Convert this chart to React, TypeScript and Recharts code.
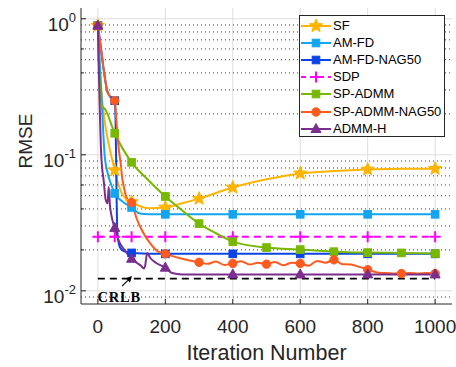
import React from 'react'
import { LineChart, Line, XAxis, YAxis, CartesianGrid, Legend, ReferenceDot, ReferenceLine } from 'recharts'

// axis ticks
const xTicks = [0, 200, 400, 600, 800, 1000]
const yDecades = [0.01, 0.1, 1]
const yExponents = ['-2', '-1', '0']
const yMinors = [0.009, 0.02, 0.03, 0.04, 0.05, 0.06, 0.07, 0.08, 0.09, 0.2, 0.3, 0.4, 0.5, 0.6, 0.7, 0.8, 0.9]
const yAll = [...yDecades, ...yMinors].sort((a, b) => a - b)

// SF
const sfIter = [0, 3, 50, 75, 100, 150, 200, 250, 300, 400, 500, 600, 700, 800, 900, 1000]
const sfRmse = [0.89, 0.48, 0.077, 0.05, 0.045, 0.0405, 0.041, 0.044, 0.0476, 0.0575, 0.066, 0.073, 0.076, 0.078, 0.079, 0.079]
const sfMarks = [0, 50, 100, 200, 300, 400, 600, 800, 1000]

// AM-FD
const amIter = [0, 10, 20, 30, 40, 50, 75, 100, 125, 150, 200, 400, 600, 800, 1000]
const amRmse = [0.89, 0.3, 0.1, 0.072, 0.06, 0.052, 0.045, 0.041, 0.037, 0.0366, 0.0365, 0.0365, 0.0365, 0.0365, 0.0365]
const amMarks = [0, 50, 100, 200, 400, 600, 800, 1000]

// AM-FD-NAG50
const amNagIter = [0, 9, 18, 27, 33, 50, 53, 55, 57, 60, 65, 75, 100, 200, 400, 600, 800, 1000]
const amNagRmse = [0.89, 0.61, 0.41, 0.3, 0.275, 0.25, 0.15, 0.06, 0.03, 0.024, 0.021, 0.0197, 0.019, 0.0187, 0.0187, 0.0187, 0.0187, 0.0187]
const amNagMarks = [0, 50, 100, 200, 400, 600, 800, 1000]

// SDP
const sdpIter = [0, 50, 100, 200, 400, 600, 800, 1000]
const sdpRmse = [0.025, 0.025, 0.025, 0.025, 0.025, 0.025, 0.025, 0.025]
const sdpMarks = [0, 50, 100, 200, 400, 600, 800, 1000]

// SP-ADMM
const spIter = [0, 3, 12, 22, 50, 100, 150, 200, 250, 300, 350, 400, 500, 600, 700, 800, 900, 1000]
const spRmse = [0.89, 0.48, 0.23, 0.215, 0.144, 0.088, 0.065, 0.0494, 0.039, 0.0312, 0.0265, 0.023, 0.0208, 0.0201, 0.0194, 0.0191, 0.019, 0.0188]
const spMarks = [0, 50, 100, 200, 300, 400, 500, 600, 700, 800, 900, 1000]

// SP-ADMM-NAG50
const spNagIter = [0, 9, 18, 27, 33, 50, 56, 62, 68, 72, 77, 86, 100, 115, 130, 157, 175, 200, 250, 300, 325, 350, 375, 400, 425, 450, 475, 500, 525, 550, 575, 600, 625, 650, 675, 700, 725, 750, 775, 800, 825, 850, 875, 900, 925, 950, 975, 1000]
const spNagRmse = [0.89, 0.61, 0.41, 0.3, 0.275, 0.25, 0.165, 0.11, 0.085, 0.068, 0.058, 0.048, 0.0445, 0.034, 0.028, 0.022, 0.0197, 0.0187, 0.0172, 0.0162, 0.0158, 0.0164, 0.0155, 0.0159, 0.0165, 0.0156, 0.0161, 0.0157, 0.0163, 0.0154, 0.0161, 0.0159, 0.0153, 0.0166, 0.0161, 0.0169, 0.0157, 0.0156, 0.015, 0.0143, 0.0137, 0.0135, 0.0134, 0.0134, 0.0135, 0.0134, 0.0135, 0.0134]
const spNagMarks = [0, 50, 100, 200, 300, 400, 500, 600, 700, 800, 900, 1000]

// ADMM-H
const hIter = [0, 10, 18, 23, 29, 32, 36, 40, 50, 62, 80, 100, 115, 128, 136, 140, 146, 155, 172, 200, 220, 250, 400, 600, 800, 1000]
const hRmse = [0.89, 0.1, 0.062, 0.047, 0.044, 0.058, 0.042, 0.036, 0.029, 0.0233, 0.0198, 0.0172, 0.0161, 0.0153, 0.0146, 0.0152, 0.019, 0.0175, 0.0161, 0.0148, 0.0135, 0.0132, 0.0132, 0.0132, 0.0132, 0.0132]
const hMarks = [0, 50, 100, 200, 400, 600, 800, 1000]

// CRLB
const crlbIter = [0, 1000]
const crlbRmse = [0.0123, 0.0123]

const AXIS = '#262626'
const FONT = '"Liberation Sans", Arial, Helvetica, sans-serif'

const toPoints = (iters: number[], vals: number[]) => iters.map((iter, i) => ({ iter, rmse: vals[i] }))

type Kind = 'star' | 'square' | 'plus' | 'circle' | 'triangle'

const series = [
  { name: 'SF', color: '#FFB400', marker: 'star' as Kind, data: toPoints(sfIter, sfRmse), marks: sfMarks, dash: undefined },
  { name: 'AM-FD', color: '#13A6EF', marker: 'square' as Kind, data: toPoints(amIter, amRmse), marks: amMarks, dash: undefined },
  { name: 'AM-FD-NAG50', color: '#0B44E6', marker: 'square' as Kind, data: toPoints(amNagIter, amNagRmse), marks: amNagMarks, dash: undefined },
  { name: 'SDP', color: '#FF00FF', marker: 'plus' as Kind, data: toPoints(sdpIter, sdpRmse), marks: sdpMarks, dash: '7 5' },
  { name: 'SP-ADMM', color: '#78B800', marker: 'square' as Kind, data: toPoints(spIter, spRmse), marks: spMarks, dash: undefined },
  { name: 'SP-ADMM-NAG50', color: '#FF5A1E', marker: 'circle' as Kind, data: toPoints(spNagIter, spNagRmse), marks: spNagMarks, dash: undefined },
  { name: 'ADMM-H', color: '#7A2E8E', marker: 'triangle' as Kind, data: toPoints(hIter, hRmse), marks: hMarks, dash: undefined },
]

function starPoints(cx: number, cy: number, R: number, r: number) {
  const pts: string[] = []
  for (let i = 0; i < 10; i++) {
    const a = ((-90 + i * 36) * Math.PI) / 180
    const rad = i % 2 === 0 ? R : r
    pts.push(`${cx + rad * Math.cos(a)},${cy + rad * Math.sin(a)}`)
  }
  return pts.join(' ')
}

function Marker({ kind, cx, cy, color }: { kind: Kind; cx: number; cy: number; color: string }) {
  switch (kind) {
    case 'star':
      return <polygon points={starPoints(cx, cy, 7, 3)} fill={color} stroke={color} strokeWidth={1} />
    case 'square':
      return <rect x={cx - 3.8} y={cy - 3.8} width={7.6} height={7.6} fill={color} stroke={color} />
    case 'circle':
      return <circle cx={cx} cy={cy} r={4.2} fill={color} stroke={color} />
    case 'triangle':
      return <polygon points={`${cx},${cy - 5.5} ${cx - 5},${cy + 3.5} ${cx + 5},${cy + 3.5}`} fill={color} stroke={color} />
    case 'plus':
      return <path d={`M${cx - 5.5},${cy}h11M${cx},${cy - 5.5}v11`} stroke={color} strokeWidth={2} fill="none" />
  }
}

const makeDot = (s: (typeof series)[number]) => (props: any) => {
  const { cx, cy, payload, index } = props
  const key = `${s.name}-${index}`
  if (cx == null || cy == null || !s.marks.includes(payload.iter)) return <g key={key} />
  return (
    <g key={key}>
      <Marker kind={s.marker} cx={cx} cy={cy} color={s.color} />
    </g>
  )
}

function BottomTick({ x, y, payload }: any) {
  return (
    <g>
      <line x1={x} x2={x} y1={y} y2={y - 5} stroke={AXIS} />
      <text x={x} y={y + 29} textAnchor="middle" fontSize={19} fill={AXIS} fontFamily={FONT}>
        {payload.value}
      </text>
    </g>
  )
}

function TopTick({ x, y }: any) {
  return <line x1={x} x2={x} y1={y} y2={y + 5} stroke={AXIS} />
}

function LeftTick({ x, y, payload }: any) {
  const i = yDecades.indexOf(payload.value)
  const major = i >= 0
  return (
    <g>
      <line x1={x} x2={x + (major ? 5 : 3)} y1={y} y2={y} stroke={AXIS} />
      {major && (
        <text x={x - 5} y={y + 12} textAnchor="end" fontSize={19} fill={AXIS} fontFamily={FONT}>
          10
          <tspan dy={-9} fontSize={13}>
            {yExponents[i]}
          </tspan>
        </text>
      )}
    </g>
  )
}

function RightTick({ x, y, payload }: any) {
  const major = yDecades.includes(payload.value)
  return <line x1={x} x2={x - (major ? 5 : 3)} y1={y} y2={y} stroke={AXIS} />
}

function CrlbNote({ cx, cy }: any) {
  if (cx == null || cy == null) return <g />
  const tx = cx + 0.5
  const ty = cy - 2.5
  const fx = cx - 9.5
  const fy = cy + 7.5
  const dx = tx - fx
  const dy = ty - fy
  const len = Math.hypot(dx, dy)
  const ux = dx / len
  const uy = dy / len
  const bx = tx - ux * 6
  const by = ty - uy * 6
  return (
    <g>
      <line x1={fx} y1={fy} x2={bx} y2={by} stroke="#000" strokeWidth={1.2} />
      <polygon points={`${tx},${ty} ${bx - uy * 3},${by + ux * 3} ${bx + uy * 3},${by - ux * 3}`} fill="#000" />
      <text x={cx - 34} y={cy + 23} fontSize={14.5} fontWeight="bold" letterSpacing={0.8} fontFamily='"Liberation Serif", "DejaVu Serif", serif' fill="#000">
        CRLB
      </text>
    </g>
  )
}

function LegendBox() {
  return (
    <div
      style={{
        width: 146,
        height: 122,
        boxSizing: 'border-box',
        border: `1px solid ${AXIS}`,
        background: '#fff',
        paddingTop: 1,
        fontFamily: FONT,
        fontSize: 13,
        color: '#000',
      }}
    >
      {series.map((s) => (
        <div key={s.name} style={{ display: 'flex', alignItems: 'center', height: 17.2 }}>
          <svg width={33} height={16} style={{ flex: 'none' }}>
            <line x1={1} x2={31} y1={8} y2={8} stroke={s.color} strokeWidth={2} strokeDasharray={s.dash ? '5 4' : undefined} />
            <Marker kind={s.marker} cx={16} cy={8} color={s.color} />
          </svg>
          <span style={{ whiteSpace: 'nowrap', lineHeight: '16px' }}>{s.name}</span>
        </div>
      ))}
    </div>
  )
}

export default function App() {
  return (
    <div style={{ position: 'absolute', left: 0, top: 0, background: '#fff' }}>
      <LineChart width={456} height={367} margin={{ top: 8, right: 4, bottom: 0, left: 0 }}>
        <CartesianGrid horizontalValues={yDecades} verticalValues={xTicks} stroke="#DEDEDE" strokeWidth={1} />
        {yMinors.map((v) => (
          <ReferenceLine key={v} y={v} stroke="#3c3c3c" strokeDasharray="1 3" strokeWidth={1} zIndex={-50} />
        ))}
        <XAxis
          dataKey="iter"
          type="number"
          domain={[-50, 1050]}
          ticks={xTicks}
          allowDataOverflow
          height={63}
          tickSize={0}
          tickMargin={0}
          tickLine={false}
          axisLine={{ stroke: AXIS }}
          tick={BottomTick}
          label={{
            content: ({ viewBox }: any) => (
              <text x={viewBox.x + viewBox.width / 2} y={viewBox.y + 56} textAnchor="middle" fontSize={21.5} fill={AXIS} fontFamily={FONT}>
                Iteration Number
              </text>
            ),
          }}
        />
        <XAxis
          xAxisId="top"
          orientation="top"
          dataKey="iter"
          type="number"
          domain={[-50, 1050]}
          ticks={xTicks}
          allowDataOverflow
          height={0}
          tickSize={0}
          tickMargin={0}
          tickLine={false}
          axisLine={{ stroke: AXIS }}
          tick={TopTick}
        />
        <YAxis
          type="number"
          scale="log"
          domain={[0.008, 1.2]}
          ticks={yAll}
          allowDataOverflow
          width={81}
          tickSize={0}
          tickMargin={0}
          tickLine={false}
          axisLine={{ stroke: AXIS }}
          tick={LeftTick}
          label={{
            content: () => (
              <text transform="translate(32,141) rotate(-90)" textAnchor="middle" fontSize={19} fill={AXIS} fontFamily={FONT}>
                RMSE
              </text>
            ),
          }}
        />
        <YAxis
          yAxisId="right"
          orientation="right"
          type="number"
          scale="log"
          domain={[0.008, 1.2]}
          ticks={yAll}
          allowDataOverflow
          width={0}
          tickSize={0}
          tickMargin={0}
          tickLine={false}
          axisLine={{ stroke: AXIS }}
          tick={RightTick}
        />
        <Line
          data={toPoints(crlbIter, crlbRmse)}
          dataKey="rmse"
          stroke="#000"
          strokeWidth={1.8}
          strokeDasharray="7 5"
          dot={false}
          activeDot={false}
          isAnimationActive={false}
        />
        {series.map((s) => (
          <Line
            key={s.name}
            name={s.name}
            data={s.data}
            dataKey="rmse"
            type="monotone"
            stroke={s.color}
            strokeWidth={2}
            strokeDasharray={s.dash}
            dot={makeDot(s)}
            activeDot={false}
            isAnimationActive={false}
          />
        ))}
        <ReferenceDot x={100} y={crlbRmse[0]} r={0} shape={CrlbNote} ifOverflow="visible" />
        <Legend
          layout="vertical"
          align="center"
          verticalAlign="middle"
          wrapperStyle={{ top: 15, left: 299, width: 146, height: 122 }}
          content={() => <LegendBox />}
        />
      </LineChart>
    </div>
  )
}
